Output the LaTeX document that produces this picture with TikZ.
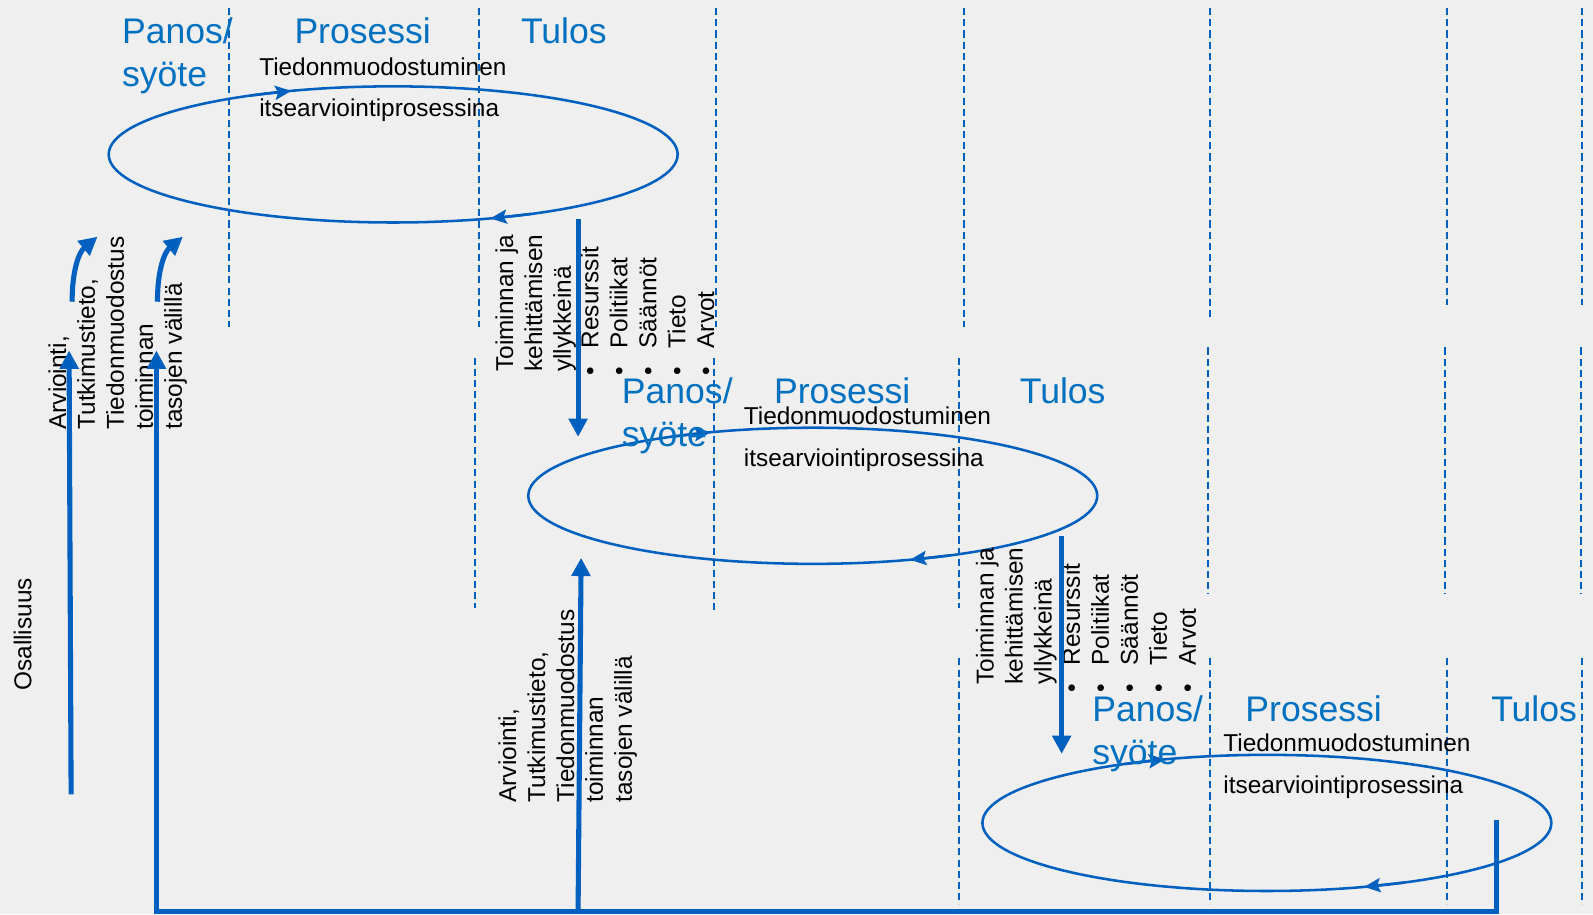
\documentclass[tikz,border=0pt]{standalone}
\usepackage{fontspec}
\setmainfont{Liberation Sans}
\usetikzlibrary{arrows.meta,shapes.geometric}
\definecolor{bg}{HTML}{EFEFEF}
\definecolor{lineblue}{HTML}{0060C0}
\definecolor{headblue}{HTML}{0070C0}
\newcommand{\vstack}[2]{\vtop{\baselineskip=#1\relax\lineskiplimit=-50pt\lineskip=0pt #2}}
\newcommand{\bul}[1]{\hbox{\makebox[27pt][l]{\textbullet}#1}}
\begin{document}
\begin{tikzpicture}[x=1pt,y=-1pt,
  dline/.style={draw=lineblue, line width=2pt, dash pattern=on 7pt off 4pt},
  loopshape/.style={ellipse, draw=lineblue, line width=2.5pt, inner sep=0pt, outer sep=0pt, minimum width=560pt, minimum height=134pt},
  looparrow/.style={draw=lineblue, line width=2.5pt, -{Stealth[length=16pt,width=14pt,inset=3pt]}},
  flow/.style={draw=lineblue, line width=5pt, -{Triangle[length=18pt,width=18pt]}},
  flowline/.style={draw=lineblue, line width=5pt, line cap=rect},
  head/.style={text=headblue, font=\fontsize{35}{42}\selectfont, inner sep=0pt},
  small/.style={font=\fontsize{24}{29}\selectfont, inner sep=0pt},
  vert/.style={small, rotate=90, anchor=base west},
]
\useasboundingbox (0,0) rectangle (1568,900);
\fill[bg] (0,0) rectangle (1568,900);

% dashed column lines
\foreach \x/\a/\b in {225/8/322, 471/8/322, 705/8/322, 949/8/322, 1191/8/312, 1424/8/300, 1557/8/300,
                      468/352/598, 703/352/600, 944/352/598, 1189/342/585, 1422/342/585, 1556/342/585,
                      944/648/890, 1191/648/890, 1424/648/890, 1557/648/890}
  \draw[dline] (\x,\a) -- (\x,\b);

% ellipses (cycles)
\node[loopshape] (e1) at (387,152) {};
\node[loopshape] (e2) at (800,488) {};
\node[loopshape] (e3) at (1247,810) {};
\foreach \cx/\cy in {387/152, 800/488, 1247/810} {
  \draw[looparrow] ({\cx+280*cos(240)},{\cy+67*sin(240)}) -- ({\cx+280*cos(249)},{\cy+67*sin(249)});
  \draw[looparrow] ({\cx+280*cos(61)},{\cy+67*sin(61)}) -- ({\cx+280*cos(70)},{\cy+67*sin(70)});
}

% headings
\node[head, anchor=base west] (pan1) at (120,43) {\vstack{42pt}{\hbox{Panos/}\hbox{syöte}}};
\node[head, anchor=base] (pro1) at (357,43) {Prosessi};
\node[head, anchor=base] (tul1) at (555,43) {Tulos};
\node[head, anchor=base west] (pan2) at (612,397) {\vstack{42pt}{\hbox{Panos/}\hbox{syöte}}};
\node[head, anchor=base] (pro2) at (829,397) {Prosessi};
\node[head, anchor=base] (tul2) at (1046,397) {Tulos};
\node[head, anchor=base west] (pan3) at (1075,710) {\vstack{42pt}{\hbox{Panos/}\hbox{syöte}}};
\node[head, anchor=base] (pro3) at (1293,710) {Prosessi};
\node[head, anchor=base] (tul3) at (1510,710) {Tulos};

% process captions
\node[small, anchor=base west] (cap1) at (255,74) {\vstack{41pt}{\hbox{Tiedonmuodostuminen}\hbox{itsearviointiprosessina}}};
\node[small, anchor=base west] (cap2) at (732,418) {\vstack{41pt}{\hbox{Tiedonmuodostuminen}\hbox{itsearviointiprosessina}}};
\node[small, anchor=base west] (cap3) at (1204,740) {\vstack{41pt}{\hbox{Tiedonmuodostuminen}\hbox{itsearviointiprosessina}}};

% rotated texts
\node[vert] (osa) at (31,680) {Osallisuus};
\node[vert] (arv1) at (65,423) {\vstack{28.5pt}{\hbox{Arviointi,}\hbox{Tutkimustieto,}\hbox{Tiedonmuodostus}\hbox{toiminnan}\hbox{tasojen välillä}}};
\node[vert] (arv2) at (508,790) {\vstack{28.5pt}{\hbox{Arviointi,}\hbox{Tutkimustieto,}\hbox{Tiedonmuodostus}\hbox{toiminnan}\hbox{tasojen välillä}}};
\node[vert] (toi1) at (505,366) {\vstack{28.5pt}{\hbox{Toiminnan ja}\hbox{kehittämisen}\hbox{yllykkeinä}}};
\node[vert] (toi2) at (978,674) {\vstack{28.5pt}{\hbox{Toiminnan ja}\hbox{kehittämisen}\hbox{yllykkeinä}}};
\node[vert] (res1) at (589,370) {\vstack{28.5pt}{\bul{Resurssit}\bul{Politiikat}\bul{Säännöt}\bul{Tieto}\bul{Arvot}}};
\node[vert] (res2) at (1063,682) {\vstack{28.5pt}{\bul{Resurssit}\bul{Politiikat}\bul{Säännöt}\bul{Tieto}\bul{Arvot}}};

% flow arrows
\coordinate (d1a) at (569,216); \coordinate (d1b) at (569,430);
\coordinate (d2a) at (1045,528); \coordinate (d2b) at (1045,742);
\draw[flow] (d1a) -- (d1b);
\draw[flow] (d2a) -- (d2b);

\coordinate (l1a) at (70,782); \coordinate (l1b) at (68,345);
\draw[flow] (l1a) -- (l1b);
\coordinate (c1a) at (71,297); \coordinate (c1b) at (96,233);
\coordinate (c2a) at (155,297); \coordinate (c2b) at (180,233);
\draw[flow] (c1a) .. controls (71,265) and (78,248) .. (c1b);
\draw[flow] (c2a) .. controls (155,265) and (162,248) .. (c2b);

\coordinate (r0) at (1473,810);
\coordinate (r1) at (1473,897);
\coordinate (r2) at (154,897);
\coordinate (r3) at (154,345);
\coordinate (m0) at (569,897);
\coordinate (m1) at (572,549);
\draw[flowline] (r0) -- (r1) -- (r2);
\draw[flow] (r2) -- (r3);
\draw[flow] (m0) -- (m1);
\end{tikzpicture}
\end{document}
